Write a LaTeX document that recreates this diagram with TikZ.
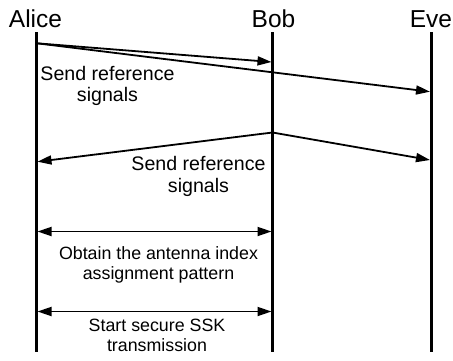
\documentclass[tikz,border=0pt]{standalone}
\usepackage{fontspec}
\setmainfont{Liberation Sans}
\usetikzlibrary{arrows.meta}
\begin{document}
\begin{tikzpicture}[x=1pt,y=-1pt,
  lifeline/.style={line width=3pt},
  msg/.style={line width=1.8pt,-{Triangle[length=14pt,width=9pt]}},
  both/.style={line width=1.8pt,{Triangle[length=14pt,width=9pt]}-{Triangle[length=14pt,width=9pt]}},
  head/.style={anchor=base,inner sep=0pt,font=\fontsize{24.5}{27}\selectfont},
  lbl/.style={anchor=north,inner sep=0pt,align=center,font=\fontsize{19.6}{21.5}\selectfont},
  slbl/.style={anchor=north,inner sep=0pt,align=center,font=\fontsize{17.8}{19.8}\selectfont}]
\useasboundingbox (0,0) rectangle (453,360);
% headings
\node[head] (alice) at (35.5,27.8) {Alice};
\node[head] (bob) at (273.5,27.8) {Bob};
\node[head] (eve) at (431,27.8) {Eve};
% lifeline ends
\coordinate (at) at (36,32); \coordinate (ab) at (36,352);
\coordinate (bt) at (272.5,32); \coordinate (bb) at (272.5,352);
\coordinate (et) at (431,32); \coordinate (eb) at (431,352);
\draw[lifeline] (at) -- (ab);
\draw[lifeline] (bt) -- (bb);
\draw[lifeline] (et) -- (eb);
% message points
\coordinate (a1) at (37,43.3);
\coordinate (b1) at (271.5,62);
\coordinate (e1) at (430,91.7);
\coordinate (b2) at (272.5,132.5);
\coordinate (a2) at (37.5,161.7);
\coordinate (e2) at (430,160);
\coordinate (a3) at (37.5,231.5);
\coordinate (b3) at (271.5,231.5);
\coordinate (a4) at (37.5,311.5);
\coordinate (b4) at (271.5,311.5);
\draw[msg] (a1) -- (b1);
\draw[msg] (a1) -- (e1);
\draw[msg] (b2) -- (a2);
\draw[msg] (b2) -- (e2);
\draw[both] (a3) -- (b3);
\draw[both] (a4) -- (b4);
% labels
\node[lbl] (t1) at (107.5,66) {Send reference\\signals};
\node[lbl] (t2) at (198.5,156.3) {Send reference\\signals};
\node[slbl] (t3) at (158.5,246.4) {Obtain the antenna index\\assignment pattern};
\node[slbl] (t4) at (157,318.8) {Start secure SSK\\transmission};
\end{tikzpicture}
\end{document}
